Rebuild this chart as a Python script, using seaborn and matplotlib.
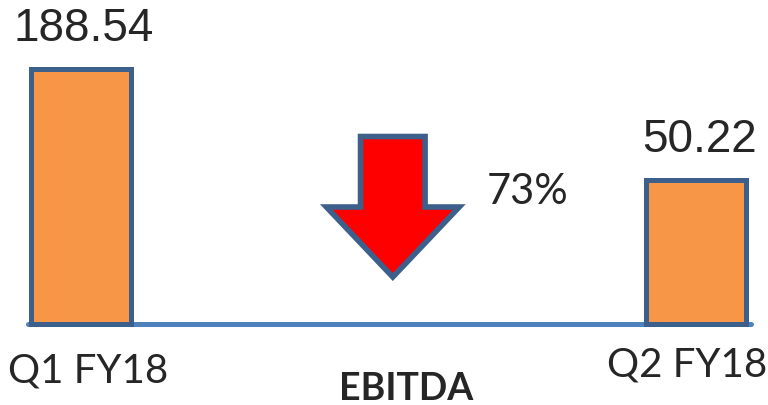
import matplotlib
matplotlib.use("Agg")
import matplotlib.pyplot as plt
from matplotlib.patches import FancyArrow
import seaborn as sns

# data (bars are drawn "not to scale" in the source,
# so the drawn heights are kept apart from the printed values)
categories = ["Q1 FY18", "Q2 FY18"]
values = ["188.54", "50.22"]
bar_heights = [255.5, 144.5]
change_label = "73%"
title = "EBITDA"

sns.set_style("white")

fig = plt.figure(figsize=(7.68, 4.05), dpi=100)
ax = fig.add_axes([0, 0, 1, 1])

# baseline
ax.axhline(0, xmin=28 / 768, xmax=751 / 768, color="#4f81bd", lw=3.6, zorder=1)

sns.barplot(x=categories, y=bar_heights, ax=ax, width=0.161,
            color="#f79646", edgecolor="#3c5f8c", linewidth=3.6,
            saturation=1, zorder=2)

ax.set_xlim(-81 / 615, (768 - 81) / 615)
ax.set_ylim(-81, 324)
ax.axis("off")

# value labels above bars
for i, (v, h) in enumerate(zip(values, bar_heights)):
    ax.text(i + 0.005, h + 27.5, v, ha="center", va="baseline",
            fontsize=33, family=["Liberation Sans", "DejaVu Sans"])

# category labels below the baseline
label_y = [-58, -53]
for i, (c, y) in enumerate(zip(categories, label_y)):
    ax.text(i + (7 if i == 0 else -8.5) / 615, y, c, ha="center", va="baseline",
            fontsize=29, family=["Lato", "DejaVu Sans"])

ax.text(0.528, -76, title, ha="center", va="baseline", fontsize=27,
        fontweight="bold", family=["Lato", "DejaVu Sans"])

# down arrow between the bars
arrow = FancyArrow(0.507, 187.5, 0, -140.5, width=0.105, head_width=0.216,
                   head_length=70, length_includes_head=True,
                   fc="#ff0000", ec="#3c5f8c", lw=4, zorder=3)
ax.add_patch(arrow)

ax.text(0.727, 120, change_label, ha="center", va="baseline", fontsize=30,
        family=["Lato", "DejaVu Sans"])

fig.savefig("out.png", dpi=100)
